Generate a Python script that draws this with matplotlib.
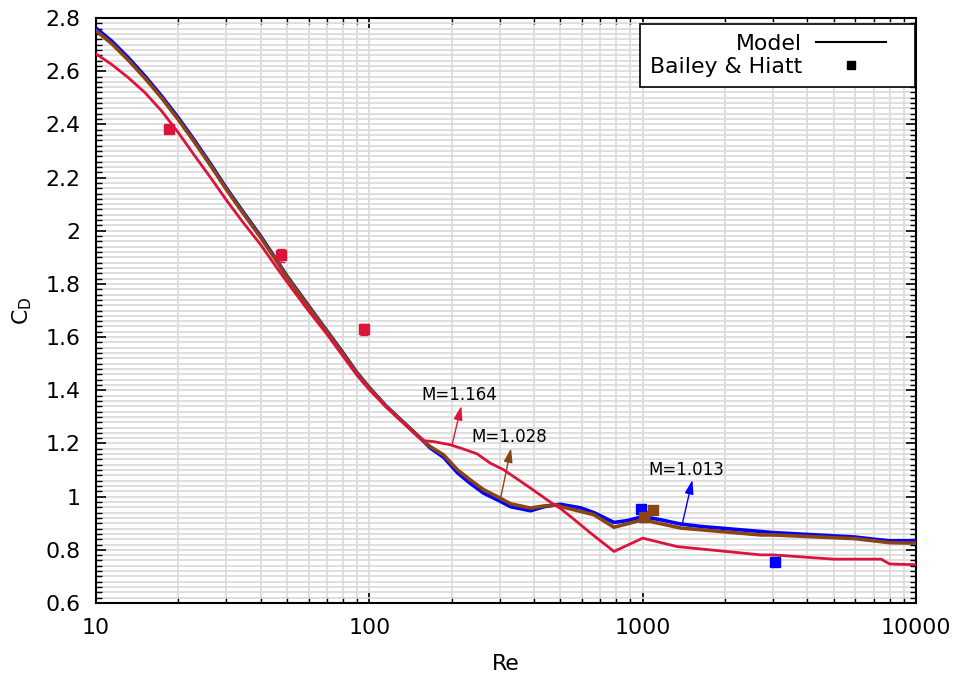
import numpy as np
import matplotlib
matplotlib.use("Agg")
import matplotlib.pyplot as plt
from matplotlib.ticker import MultipleLocator, FuncFormatter, LogLocator
from matplotlib.lines import Line2D
from matplotlib.legend_handler import HandlerLine2D

# model curves, M = 1.013 (blue)
re_m1013 = [10, 11.43, 13.15, 15.12, 17.39, 20, 23, 26.45, 30, 34.3, 40, 45.4, 50, 60, 70, 80, 90, 100,
            115, 156, 167, 187, 210, 234, 262, 294, 329, 389, 435, 487, 501, 593, 663, 785, 879, 1000,
            1164, 1377, 1631, 2704, 3000, 6000, 7000, 8000, 10000]
cd_m1013 = [2.762, 2.7125, 2.65, 2.581, 2.506, 2.425, 2.3375, 2.246, 2.16, 2.075, 1.98, 1.895, 1.829,
            1.717, 1.623, 1.542, 1.467, 1.410, 1.3415, 1.214, 1.183, 1.148, 1.090, 1.050, 1.013, 0.988,
            0.962, 0.947, 0.962, 0.970, 0.971, 0.958, 0.940, 0.903, 0.910, 0.925, 0.913, 0.897, 0.888,
            0.869, 0.865, 0.848, 0.840, 0.834, 0.834]

# M = 1.028 (brown)
re_m1028 = [10, 11.43, 13.15, 15.12, 17.39, 20, 23, 26.45, 30, 34.3, 40, 45.4, 50, 60, 70, 80, 90, 100,
            115, 156, 167, 187, 210, 234, 262, 294, 329, 389, 435, 487, 501, 663, 785, 1000, 1377,
            2704, 3000, 6000, 8000, 10000]
cd_m1028 = [2.752, 2.703, 2.641, 2.573, 2.499, 2.418, 2.331, 2.240, 2.155, 2.070, 1.975, 1.891, 1.825,
            1.714, 1.620, 1.539, 1.465, 1.408, 1.340, 1.214, 1.188, 1.157, 1.101, 1.063, 1.026, 1.000,
            0.973, 0.957, 0.965, 0.969, 0.963, 0.932, 0.885, 0.913, 0.882, 0.856, 0.856, 0.842, 0.827,
            0.825]

# M = 1.164 (red)
re_m1164 = [10, 11.43, 13.15, 15.12, 17.39, 20, 23, 26.45, 30, 34.3, 40, 45.4, 50, 60, 70, 80, 90, 100,
            115, 156, 172, 198, 221, 248, 277, 310, 389, 460, 501, 545, 645, 785, 1000, 1340, 2704,
            3000, 5000, 7447, 8000, 10000]
cd_m1164 = [2.665, 2.625, 2.575, 2.519, 2.45, 2.369, 2.281, 2.195, 2.115, 2.035, 1.948, 1.867, 1.807,
            1.698, 1.6105, 1.529, 1.457, 1.402, 1.338, 1.211, 1.207, 1.195, 1.179, 1.161, 1.126, 1.101,
            1.032, 0.979, 0.955, 0.925, 0.863, 0.794, 0.844, 0.812, 0.781, 0.781, 0.765, 0.765, 0.747,
            0.744]

# Bailey & Hiatt data
bh_re = [18.5, 47.6, 95.9, 984, 1014, 1094, 3045]
bh_cd = [2.381, 1.907, 1.629, 0.953, 0.925, 0.950, 0.756]
bh_err = [0.015, 0.025, 0.022, 0.01, 0.02, 0.01, 0.012]
bh_col = ["#DC143C", "#DC143C", "#DC143C", "#0000FF", "#8B4513", "#8B4513", "#0000FF"]

RED = "#DC143C"
BLUE = "#0000FF"
BROWN = "#8B4513"


class ShortLine(HandlerLine2D):
    # leave some room at the right end of the legend sample (gnuplot look)
    def create_artists(self, legend, orig_handle, xdescent, ydescent, width, height, fontsize, trans):
        return super().create_artists(legend, orig_handle, xdescent, ydescent, width - 13.7,
                                      height, fontsize, trans)


plt.rcParams["font.family"] = "DejaVu Sans"
fig = plt.figure(figsize=(9.58, 6.82), dpi=100)
ax = fig.add_axes([0.1002, 0.1158, 0.856, 0.8578])

ax.plot(re_m1013, cd_m1013, color=BLUE, lw=2.6, zorder=3)
ax.plot(re_m1028, cd_m1028, color=BROWN, lw=2.6, zorder=4)
ax.plot(re_m1164, cd_m1164, color=RED, lw=2.0, zorder=5)

for r, c, e, col in zip(bh_re, bh_cd, bh_err, bh_col):
    ax.errorbar(r, c, yerr=e, fmt="s", color=col, ms=7, capsize=3, elinewidth=1, zorder=6)

ax.set_xscale("log")
ax.set_xlim(10, 10000)
ax.set_ylim(0.6, 2.8)
ax.yaxis.set_major_locator(MultipleLocator(0.2))
ax.yaxis.set_minor_locator(MultipleLocator(0.02))
ax.xaxis.set_major_locator(LogLocator(base=10))
ax.xaxis.set_minor_locator(LogLocator(base=10, subs=np.arange(2, 10)))
ax.yaxis.set_major_formatter(FuncFormatter(lambda v, p: "%g" % round(v, 2)))
ax.xaxis.set_major_formatter(FuncFormatter(lambda v, p: "%g" % v))
ax.xaxis.set_minor_formatter(FuncFormatter(lambda v, p: ""))

ax.tick_params(which="both", direction="in", top=True, right=True, labelsize=15.8)
ax.tick_params(which="major", length=7, width=1.2)
ax.tick_params(which="minor", length=4, width=1)
ax.tick_params(axis="x", pad=11)
ax.tick_params(axis="y", pad=11)
ax.grid(which="both", color="#d9d9d9", lw=1.2, zorder=0)
ax.set_axisbelow(True)
for s in ax.spines.values():
    s.set_linewidth(1.5)

ax.set_xlabel("Re", fontsize=15.8, labelpad=11)
ax.set_ylabel(r"$\mathregular{C_D}$", fontsize=15.8, labelpad=8)

arrow = "-|>,head_length=0.7,head_width=0.22"
ax.annotate("", xy=(217, 1.341), xytext=(201, 1.198),
            arrowprops=dict(arrowstyle=arrow, color=RED, lw=1, mutation_scale=12, shrinkA=0, shrinkB=0))
ax.text(214, 1.381, "M=1.164", fontsize=12, ha="center", va="center")
ax.annotate("", xy=(330, 1.182), xytext=(302, 0.994),
            arrowprops=dict(arrowstyle=arrow, color=BROWN, lw=1, mutation_scale=12, shrinkA=0, shrinkB=0))
ax.text(324, 1.223, "M=1.028", fontsize=12, ha="center", va="center")
ax.annotate("", xy=(1520, 1.063), xytext=(1396, 0.898),
            arrowprops=dict(arrowstyle=arrow, color=BLUE, lw=1, mutation_scale=12, shrinkA=0, shrinkB=0))
ax.text(1446, 1.099, "M=1.013", fontsize=12, ha="center", va="center")

handles = [Line2D([], [], color="black", lw=1.5),
           Line2D([], [], color="black", marker="s", ls="none", ms=6)]
leg = ax.legend(handles, ["Model", "Bailey & Hiatt"], loc="upper right",
                bbox_to_anchor=(0.9988, 0.99), borderaxespad=0, fontsize=15.8,
                markerfirst=False, handlelength=4.06, fancybox=False, framealpha=1,
                edgecolor="black", borderpad=0.45, labelspacing=0.15, handletextpad=0.63,
                handler_map={Line2D: ShortLine()})
leg.get_frame().set_linewidth(1.2)
leg.set_zorder(10)
for t in leg.get_texts():
    t.set_ha("right")

fig.savefig("out.png", dpi=100)
